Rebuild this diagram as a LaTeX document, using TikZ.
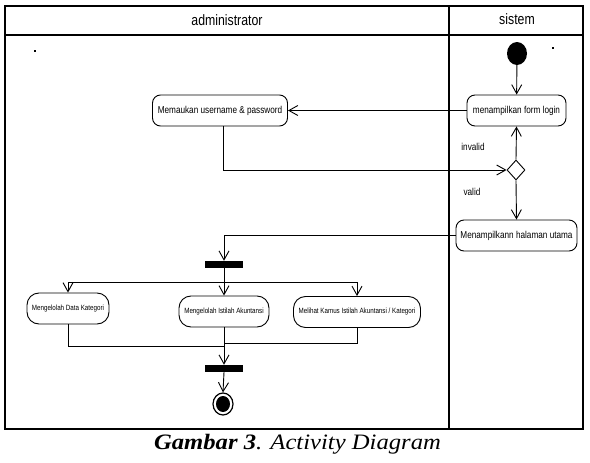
\documentclass[tikz,border=0pt]{standalone}
\usepackage{fontspec}
\usetikzlibrary{arrows.meta,shapes.geometric}
\newfontfamily\lanefont[FakeStretch=0.82]{Liberation Sans}
\newfontfamily\capfont[FakeStretch=1.12]{Liberation Serif}

\tikzstyle{action}=[draw,black,rounded corners=8pt,line width=0.9pt,inner sep=1pt,minimum height=31pt,font=\lanefont\fontsize{10}{12}\selectfont]
\tikzstyle{subaction}=[action,rounded corners=12pt,font=\lanefont\fontsize{7.6}{9}\selectfont]
\tikzstyle{bar}=[fill=black,minimum width=38pt,minimum height=7pt,inner sep=0pt]
\tikzstyle{edge}=[line width=0.9pt]
\tikzstyle{flow}=[edge,-{Straight Barb[length=9pt,width=10pt]}]

\begin{document}
\begin{tikzpicture}[x=1pt,y=-1pt]
    \useasboundingbox (0,0) rectangle (590,463);

    % swimlanes
    \draw [line width=1.2pt] (5,6) rectangle (583,429);
    \draw [line width=1.2pt] (449,6) -- (449,429);
    \draw [line width=1.2pt] (5,35) -- (583,35);
    \node (admin) at (227,20) {\lanefont\fontsize{15}{18}\selectfont administrator};
    \node (sistem) at (517,19) {\lanefont\fontsize{15}{18}\selectfont sistem};
    \fill (34,50) rectangle (36,52);
    \fill (552,47) rectangle (554,49);

    \node (start)[ellipse,fill=black,minimum width=20pt,minimum height=23pt,inner sep=0pt] at (517,53.5) {};
    \node (login)[action,minimum width=99pt] at (516.5,110.5) {menampilkan form login};
    \node (input)[action,minimum width=135pt] at (220,110.5) {Memaukan username \& password};
    \node (cek)[diamond,draw,edge,minimum width=18pt,minimum height=20pt,inner sep=0pt] at (516,170) {};
    \node (home)[action,minimum width=121pt] at (516.5,235.5) {Menampilkann halaman utama};
    \node (fork)[bar] at (224,264.5) {};
    \node (kategori)[subaction,minimum width=82pt] at (68,308.5) {Mengelolah Data Kategori};
    \node (istilah)[subaction,minimum width=90pt] at (224,311.5) {Mengelolah Istilah Akuntansi};
    \node (kamus)[subaction,minimum width=127pt] at (357,312) {Melihat Kamus Istilah Akuntansi / Kategori};
    \node (join)[bar] at (224,368.5) {};
    \node (end)[ellipse,draw,line width=1.2pt,minimum width=20pt,minimum height=22pt,inner sep=0pt] at (223,404) {};
    \fill (end.center) ellipse (7 and 8);

    \coordinate (split) at (224,282);
    \coordinate (mergeleft) at (224,346);
    \coordinate (mergeright) at (224,343);

    \draw[flow] (start) -- (login);
    \draw[flow] (login.west) -- (input.east);
    \draw[flow] ([xshift=3pt]input.south) |- (cek.west);
    \draw[flow] (cek.north) -- (login.south);
    \draw[flow] (cek.south) -- (home.north);
    \draw[flow] (home.west) -| (fork.north);
    \draw[edge] (fork.south) -- (split);
    \draw[flow] (split) -| (kategori.north);
    \draw[flow] (split) -- (istilah.north);
    \draw[flow] (split) -| (kamus.north);
    \draw[edge] (kategori.south) |- (mergeleft);
    \draw[edge] (kamus.south) |- (mergeright);
    \draw[flow] (istilah.south) -- (join.north);
    \draw[flow] (join.south) -- (end.north);

    \node (invalid) at (473,147) {\lanefont\fontsize{10}{12}\selectfont invalid};
    \node (valid) at (472,192) {\lanefont\fontsize{10}{12}\selectfont valid};

    \node (caption) at (297.5,444) {\capfont\fontsize{22}{26}\selectfont\textbf{\textit{Gambar 3}}\textit{. Activity Diagram}};
\end{tikzpicture}
\end{document}
